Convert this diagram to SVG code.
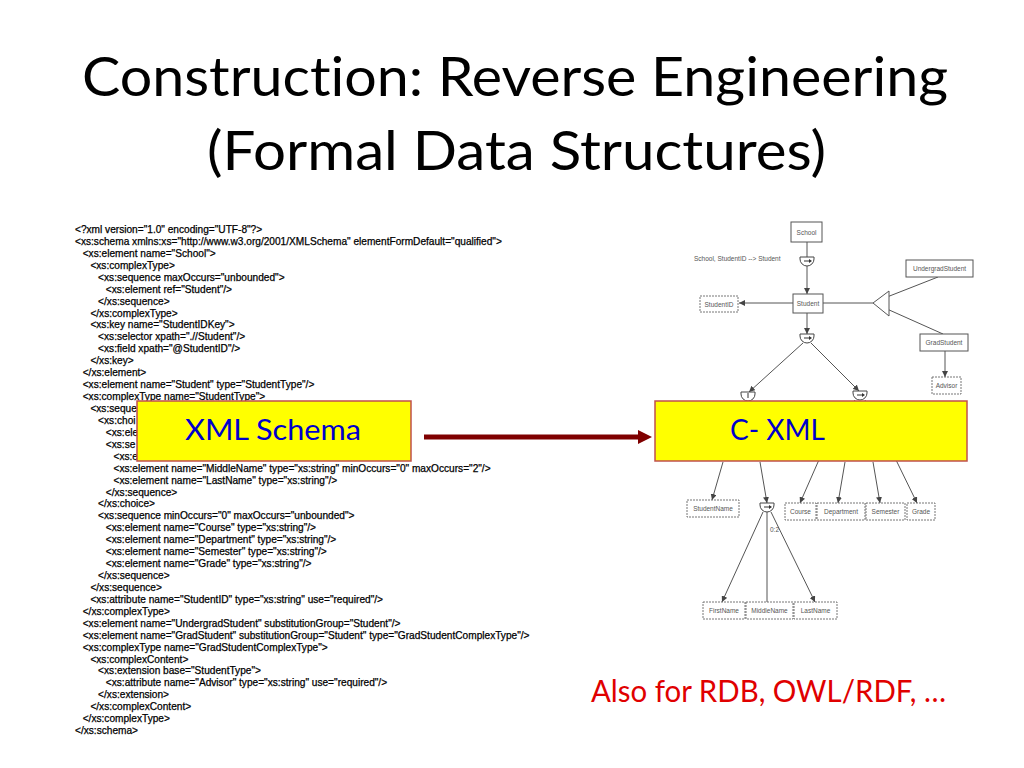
<svg xmlns="http://www.w3.org/2000/svg" width="1024" height="768" viewBox="0 0 1024 768">
<style>
.title{font-family:Lato,"Open Sans",sans-serif;font-size:54px;fill:#000;font-variant-ligatures:none;font-feature-settings:"liga" 0}
.code{font-family:"Liberation Sans",Arial,sans-serif;font-size:10.15px;fill:#000;stroke:#000;stroke-width:0.25}
.nt{font-family:"Liberation Sans",Arial,sans-serif;font-size:6.5px;fill:#555;text-anchor:middle}
.solid{fill:#fff;stroke:#555;stroke-width:1}
.dash{fill:#fff;stroke:#666;stroke-width:0.9;stroke-dasharray:2,1}
.ln{stroke:#555;stroke-width:1;fill:none}
.ar{stroke:#555;stroke-width:1;fill:none;marker-end:url(#ah)}
.sym{fill:#fff;stroke:#444;stroke-width:1}
.ybox{fill:#ffff00;stroke:#c0504d;stroke-width:1.5}
.ylab{font-family:Lato,"Open Sans",sans-serif;font-size:29px;fill:#0000cc;text-anchor:middle}
.red{font-family:Lato,"Open Sans",sans-serif;font-size:30px;fill:#e00000}
</style>
<defs>
<marker id="ah" markerUnits="userSpaceOnUse" markerWidth="6" markerHeight="6" refX="6" refY="3" orient="auto">
<path d="M0,0 L6,3 L0,6 z" fill="#444"/>
</marker>
<g id="bowl">
<path d="M-7,0 H7 V2 A7,7 0 0 1 -7,2 Z" class="sym"/>
</g>
</defs>

<g id="title">
<text class="title" x="82" y="96" textLength="866" lengthAdjust="spacingAndGlyphs">Construction: Reverse Engineering</text>
<text class="title" x="207" y="170" textLength="619" lengthAdjust="spacingAndGlyphs">(Formal Data Structures)</text>
</g>

<g id="xml-code">
<text class="code">
<tspan x="75" y="233">&lt;?xml version="1.0" encoding="UTF-8"?&gt;</tspan>
<tspan x="75" y="244.9">&lt;xs:schema xmlns:xs="http://www.w3.org/2001/XMLSchema" elementFormDefault="qualified"&gt;</tspan>
<tspan x="82.7" y="256.9">&lt;xs:element name="School"&gt;</tspan>
<tspan x="90.4" y="268.8">&lt;xs:complexType&gt;</tspan>
<tspan x="98.1" y="280.7">&lt;xs:sequence maxOccurs="unbounded"&gt;</tspan>
<tspan x="105.8" y="292.7">&lt;xs:element ref="Student"/&gt;</tspan>
<tspan x="98.1" y="304.6">&lt;/xs:sequence&gt;</tspan>
<tspan x="90.4" y="316.5">&lt;/xs:complexType&gt;</tspan>
<tspan x="90.4" y="328.4">&lt;xs:key name="StudentIDKey"&gt;</tspan>
<tspan x="98.1" y="340.4">&lt;xs:selector xpath=".//Student"/&gt;</tspan>
<tspan x="98.1" y="352.3">&lt;xs:field xpath="@StudentID"/&gt;</tspan>
<tspan x="90.4" y="364.2">&lt;/xs:key&gt;</tspan>
<tspan x="82.7" y="376.2">&lt;/xs:element&gt;</tspan>
<tspan x="82.7" y="388.1">&lt;xs:element name="Student" type="StudentType"/&gt;</tspan>
<tspan x="82.7" y="400">&lt;xs:complexType name="StudentType"&gt;</tspan>
<tspan x="90.4" y="411.9">&lt;xs:seque</tspan>
<tspan x="98.1" y="423.9">&lt;xs:choi</tspan>
<tspan x="105.8" y="435.8">&lt;xs:ele</tspan>
<tspan x="105.8" y="447.7">&lt;xs:se</tspan>
<tspan x="113.5" y="459.7">&lt;xs:e</tspan>
<tspan x="113.5" y="471.6">&lt;xs:element name="MiddleName" type="xs:string" minOccurs="0" maxOccurs="2"/&gt;</tspan>
<tspan x="113.5" y="483.5">&lt;xs:element name="LastName" type="xs:string"/&gt;</tspan>
<tspan x="105.8" y="495.5">&lt;/xs:sequence&gt;</tspan>
<tspan x="98.1" y="507.4">&lt;/xs:choice&gt;</tspan>
<tspan x="98.1" y="519.3">&lt;xs:sequence minOccurs="0" maxOccurs="unbounded"&gt;</tspan>
<tspan x="105.8" y="531.2">&lt;xs:element name="Course" type="xs:string"/&gt;</tspan>
<tspan x="105.8" y="543.2">&lt;xs:element name="Department" type="xs:string"/&gt;</tspan>
<tspan x="105.8" y="555.1">&lt;xs:element name="Semester" type="xs:string"/&gt;</tspan>
<tspan x="105.8" y="567">&lt;xs:element name="Grade" type="xs:string"/&gt;</tspan>
<tspan x="98.1" y="579">&lt;/xs:sequence&gt;</tspan>
<tspan x="90.4" y="590.9">&lt;/xs:sequence&gt;</tspan>
<tspan x="90.4" y="602.8">&lt;xs:attribute name="StudentID" type="xs:string" use="required"/&gt;</tspan>
<tspan x="82.7" y="614.7">&lt;/xs:complexType&gt;</tspan>
<tspan x="82.7" y="626.7">&lt;xs:element name="UndergradStudent" substitutionGroup="Student"/&gt;</tspan>
<tspan x="82.7" y="638.6">&lt;xs:element name="GradStudent" substitutionGroup="Student" type="GradStudentComplexType"/&gt;</tspan>
<tspan x="82.7" y="650.5">&lt;xs:complexType name="GradStudentComplexType"&gt;</tspan>
<tspan x="90.4" y="662.5">&lt;xs:complexContent&gt;</tspan>
<tspan x="98.1" y="674.4">&lt;xs:extension base="StudentType"&gt;</tspan>
<tspan x="105.8" y="686.3">&lt;xs:attribute name="Advisor" type="xs:string" use="required"/&gt;</tspan>
<tspan x="98.1" y="698.3">&lt;/xs:extension&gt;</tspan>
<tspan x="90.4" y="710.2">&lt;/xs:complexContent&gt;</tspan>
<tspan x="82.7" y="722.1">&lt;/xs:complexType&gt;</tspan>
<tspan x="75" y="734">&lt;/xs:schema&gt;</tspan>
</text>
</g>

<g id="connectors">
<line class="ln" x1="807" y1="242" x2="807" y2="257"/>
<line class="ar" x1="807" y1="266" x2="807" y2="294"/>
<line class="ar" x1="793" y1="303" x2="739" y2="303"/>
<line class="ln" x1="823" y1="303" x2="873" y2="303"/>
<line class="ln" x1="887" y1="297" x2="938" y2="277"/>
<line class="ln" x1="887" y1="309" x2="943" y2="334"/>
<line class="ar" x1="945" y1="351" x2="945" y2="377"/>
<line class="ar" x1="807" y1="313" x2="807" y2="334"/>
<line class="ar" x1="803" y1="343" x2="749" y2="392"/>
<line class="ar" x1="811" y1="343" x2="859" y2="391"/>
<line class="ln" x1="855" y1="400" x2="818" y2="462"/>
<line class="ln" x1="865" y1="400" x2="897" y2="462"/>
<line class="ar" x1="723" y1="462" x2="712" y2="500"/>
<line class="ar" x1="760" y1="462" x2="767" y2="503"/>
<line class="ar" x1="818" y1="462" x2="800" y2="503"/>
<line class="ar" x1="845" y1="462" x2="838" y2="503"/>
<line class="ar" x1="873" y1="462" x2="880" y2="503"/>
<line class="ar" x1="897" y1="462" x2="917" y2="503"/>
<line class="ar" x1="763" y1="512" x2="722" y2="602"/>
<line class="ln" x1="767" y1="512" x2="767" y2="602"/>
<line class="ar" x1="771" y1="512" x2="815" y2="602"/>
</g>

<g id="cxml-diagram">
<g id="n-school"><rect class="solid" x="791" y="222" width="31" height="20"/><text class="nt" x="806.5" y="234.5">School</text></g>
<text class="nt" x="694" y="261" style="text-anchor:start">School, StudentID --&gt; Student</text>
<g id="n-key1"><use href="#bowl" x="807" y="257"/><line x1="804" y1="261" x2="809" y2="261" stroke="#333" stroke-width="1"/><path d="M809,259 L812,261 L809,263 z" fill="#333"/></g>
<g id="n-student"><rect class="solid" x="793" y="294" width="30" height="19"/><text class="nt" x="808" y="306">Student</text></g>
<g id="n-studentid"><rect class="dash" x="700" y="296" width="38" height="16"/><text class="nt" x="719" y="306.5">StudentID</text></g>
<g id="n-isa"><polygon points="873,303 889,291 889,316" fill="#fff" stroke="#555" stroke-width="1"/></g>
<g id="n-undergrad"><rect class="solid" x="906" y="260" width="67" height="17"/><text class="nt" x="939.5" y="271">UndergradStudent</text></g>
<g id="n-grad"><rect class="solid" x="920" y="334" width="48" height="17"/><text class="nt" x="944" y="345">GradStudent</text></g>
<g id="n-advisor"><rect class="dash" x="932" y="377" width="29" height="17"/><text class="nt" x="946.5" y="388">Advisor</text></g>
<g id="n-seq1"><use href="#bowl" x="807" y="334"/><line x1="804" y1="338" x2="809" y2="338" stroke="#333" stroke-width="1"/><path d="M809,336 L812,338 L809,340 z" fill="#333"/></g>
<g id="n-choice"><use href="#bowl" x="748" y="392"/><line x1="748" y1="393" x2="748" y2="398" stroke="#333" stroke-width="1"/></g>
<g id="n-seq2"><use href="#bowl" x="860" y="391"/><line x1="857" y1="395" x2="862" y2="395" stroke="#333" stroke-width="1"/><path d="M862,393 L865,395 L862,397 z" fill="#333"/></g>
<g id="n-studentname"><rect class="dash" x="687" y="500" width="52" height="17"/><text class="nt" x="713" y="511">StudentName</text></g>
<g id="n-seq3"><use href="#bowl" x="767" y="503"/><line x1="764" y1="507" x2="769" y2="507" stroke="#333" stroke-width="1"/><path d="M769,505 L772,507 L769,509 z" fill="#333"/></g>
<text class="nt" x="770" y="532" style="text-anchor:start">0:2</text>
<g id="n-course"><rect class="dash" x="785" y="503" width="31" height="17"/><text class="nt" x="800.5" y="514">Course</text></g>
<g id="n-department"><rect class="dash" x="817" y="503" width="48" height="17"/><text class="nt" x="841" y="514">Department</text></g>
<g id="n-semester"><rect class="dash" x="866" y="503" width="39" height="17"/><text class="nt" x="885.5" y="514">Semester</text></g>
<g id="n-grade"><rect class="dash" x="907" y="503" width="28" height="17"/><text class="nt" x="921" y="514">Grade</text></g>
<g id="n-firstname"><rect class="dash" x="703" y="602" width="42" height="17"/><text class="nt" x="724" y="613">FirstName</text></g>
<g id="n-middlename"><rect class="dash" x="746" y="602" width="47" height="17"/><text class="nt" x="769.5" y="613">MiddleName</text></g>
<g id="n-lastname"><rect class="dash" x="794" y="602" width="43" height="17"/><text class="nt" x="815.5" y="613">LastName</text></g>
</g>

<g id="box-xmlschema">
<rect class="ybox" x="137" y="401" width="274" height="60"/>
<text class="ylab" x="273" y="440" textLength="176" lengthAdjust="spacingAndGlyphs">XML Schema</text>
</g>
<g id="box-cxml">
<rect class="ybox" x="655" y="401" width="312" height="60"/>
<text class="ylab" x="777.5" y="440" textLength="95" lengthAdjust="spacingAndGlyphs">C- XML</text>
</g>
<g id="main-arrow">
<line x1="424" y1="437" x2="640" y2="437" stroke="#7f0000" stroke-width="5"/>
<polygon points="638,430 652,437 638,444" fill="#7f0000"/>
</g>

<g id="note">
<text class="red" x="591" y="702" textLength="355" lengthAdjust="spacingAndGlyphs">Also for RDB, OWL/RDF, …</text>
</g>
</svg>
